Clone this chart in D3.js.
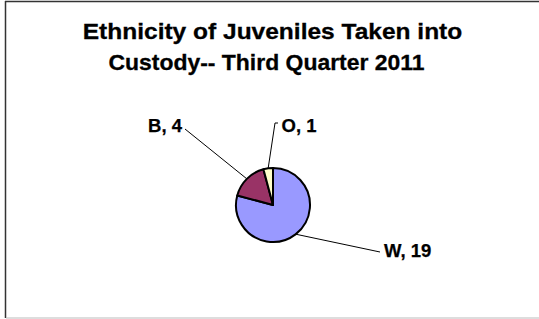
<!DOCTYPE html>
<html>
<head>
<meta charset="utf-8">
<script src="https://cdn.jsdelivr.net/npm/d3@7"></script>
<style>
  html, body { margin: 0; padding: 0; background: #fff; }
  svg { display: block; }
  text { font-family: "Liberation Sans", Arial, sans-serif; font-weight: bold; fill: #000; }
</style>
</head>
<body>
<script>
const categories = ["W", "B", "O"];
const values = [19, 4, 1];
const colors = ["#9999FF", "#993366", "#FFFFCC"];
const titleLines = ["Ethnicity of Juveniles Taken into", "Custody-- Third Quarter 2011"];

const W = 539, H = 319;
const svg = d3.select("body").append("svg").attr("width", W).attr("height", H);

// frame
svg.append("line").attr("x1", 5.5).attr("y1", 1).attr("x2", 5.5).attr("y2", 318).attr("stroke", "#333").attr("stroke-width", 1.5);
svg.append("line").attr("x1", 5).attr("y1", 1.5).attr("x2", W).attr("y2", 1.5).attr("stroke", "#333").attr("stroke-width", 1.5);
svg.append("line").attr("x1", 6).attr("y1", 318).attr("x2", W).attr("y2", 318).attr("stroke", "#bbb").attr("stroke-width", 1);

// title
const title = svg.append("g");
const titleY = [38.5, 70];
const titleX = [272.5, 266.5];
const titleScale = [1.09, 1.02];
titleLines.forEach((t, i) => {
  title.append("text")
    .attr("transform", `translate(${titleX[i]},${titleY[i]}) scale(${titleScale[i]},1)`)
    .attr("text-anchor", "middle")
    .attr("font-size", 22.5)
    .attr("stroke", "#000")
    .attr("stroke-width", 0.3)
    .text(t);
});

// pie
const cx = 273, cy = 205, r = 37;
const data = categories.map((c, i) => ({ cat: c, value: values[i], color: colors[i] }));
const pie = d3.pie().value(d => d.value).sort(null);
const arc = d3.arc().innerRadius(0).outerRadius(r);
const arcs = pie(data);
const g = svg.append("g").attr("transform", `translate(${cx},${cy})`);
g.selectAll("path").data(arcs).enter().append("path")
  .attr("d", arc)
  .attr("fill", d => d.data.color)
  .attr("stroke", "#000")
  .attr("stroke-width", 2)
  .attr("stroke-linejoin", "round");

// labels with leader lines (layout offsets)
const labelLayout = {
  W: { pts: [[380, 252]], tx: 384, ty: 257, anchor: "start" },
  B: { pts: [[185, 129]], tx: 182, ty: 132, anchor: "end" },
  O: { pts: [[275, 123], [278, 123]], tx: 281.5, ty: 132, anchor: "start" }
};
const outer = d3.arc().innerRadius(r).outerRadius(r);
arcs.forEach(a => {
  const L = labelLayout[a.data.cat];
  const c = outer.centroid(a);
  let start = [cx + c[0], cy + c[1]];
  if (a.data.cat === "W") {
    const ang = 2.48;
    start = [cx + Math.sin(ang) * r, cy - Math.cos(ang) * r];
  }
  const pts = [start].concat(L.pts);
  svg.append("path")
    .attr("d", d3.line()(pts))
    .attr("fill", "none")
    .attr("stroke", "#000")
    .attr("stroke-width", 1);
  svg.append("text")
    .attr("x", L.tx).attr("y", L.ty)
    .attr("text-anchor", L.anchor)
    .attr("font-size", 18.5)
    .attr("stroke", "#000")
    .attr("stroke-width", 0.25)
    .text(`${a.data.cat}, ${a.data.value}`);
});
</script>
</body>
</html>
